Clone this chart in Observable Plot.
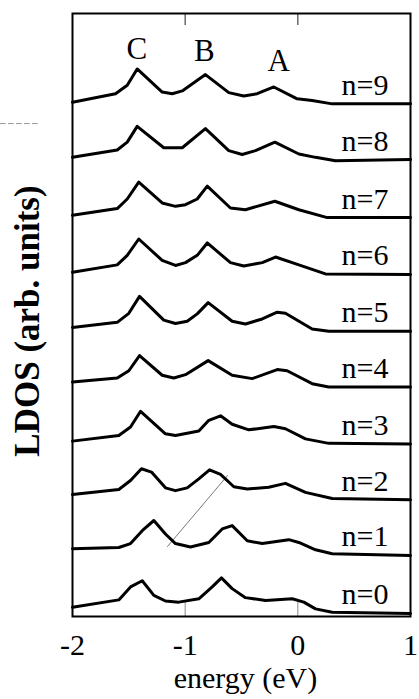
<!DOCTYPE html>
<html>
<head>
<meta charset="utf-8">
<script src="https://cdn.jsdelivr.net/npm/d3@7"></script>
<script src="https://cdn.jsdelivr.net/npm/@observablehq/plot@0.6"></script>
<style>
  html, body { margin: 0; padding: 0; background: #fff; }
  #chart { width: 419px; height: 699px; }
</style>
</head>
<body>
<div id="chart"></div>
<script>
// LDOS curves, [energy (eV), LDOS (arb. units)] for each layer n; curves are offset by n
const ldos9 = [[-2.0,-0.03],[-1.618,0.12],[-1.514,0.27],[-1.426,0.56],[-1.204,0.15],[-1.115,0.12],[-1.026,0.17],[-0.820,0.46],[-0.613,0.14],[-0.480,0.08],[-0.361,0.12],[-0.213,0.24],[-0.006,0.03],[0.127,0.00],[0.305,-0.06],[1.0,-0.06]];
const ldos8 = [[-2.0,-0.01],[-1.603,0.12],[-1.514,0.26],[-1.426,0.54],[-1.190,0.16],[-1.026,0.16],[-0.820,0.50],[-0.613,0.11],[-0.494,0.04],[-0.376,0.11],[-0.204,0.26],[0.009,0.05],[0.157,-0.01],[0.334,-0.07],[1.0,-0.05]];
const ldos7 = [[-2.0,-0.04],[-1.603,0.08],[-1.514,0.25],[-1.412,0.55],[-1.204,0.18],[-1.086,0.12],[-0.997,0.15],[-0.893,0.25],[-0.804,0.48],[-0.598,0.09],[-0.465,0.06],[-0.204,0.21],[0.009,0.06],[0.261,-0.08],[1.0,-0.08]];
const ldos6 = [[-2.0,-0.05],[-1.603,0.08],[-1.514,0.25],[-1.412,0.54],[-1.204,0.16],[-1.086,0.07],[-0.997,0.12],[-0.893,0.25],[-0.804,0.47],[-0.598,0.12],[-0.480,0.06],[-0.316,0.12],[-0.198,0.22],[0.009,0.08],[0.245,-0.08],[1.0,-0.09]];
const ldos5 = [[-2.0,-0.03],[-1.603,0.06],[-1.500,0.22],[-1.405,0.52],[-1.190,0.10],[-1.086,0.04],[-0.982,0.08],[-0.893,0.21],[-0.796,0.41],[-0.583,0.08],[-0.465,0.03],[-0.316,0.12],[-0.183,0.24],[-0.110,0.22],[0.127,-0.06],[0.275,-0.10],[1.0,-0.10]];
const ldos4 = [[-2.0,0.00],[-1.603,0.07],[-1.500,0.20],[-1.405,0.47],[-1.204,0.12],[-1.101,0.07],[-0.997,0.13],[-0.796,0.38],[-0.583,0.12],[-0.405,0.06],[-0.183,0.22],[-0.095,0.20],[0.127,-0.03],[0.275,-0.09],[1.0,-0.09]];
const ldos3 = [[-2.0,-0.05],[-1.589,0.05],[-1.485,0.20],[-1.396,0.48],[-1.175,0.08],[-1.086,0.05],[-0.879,0.13],[-0.790,0.32],[-0.686,0.40],[-0.583,0.25],[-0.435,0.15],[-0.213,0.21],[-0.110,0.17],[0.068,-0.01],[0.275,-0.09],[1.0,-0.10]];
const ldos2 = [[-2.0,0.00],[-1.589,0.09],[-1.485,0.25],[-1.388,0.46],[-1.299,0.40],[-1.175,0.12],[-1.086,0.07],[-0.982,0.12],[-0.879,0.28],[-0.784,0.44],[-0.686,0.36],[-0.568,0.14],[-0.449,0.10],[-0.258,0.13],[-0.110,0.20],[0.068,0.04],[0.305,-0.07],[1.0,-0.09]];
const ldos1 = [[-2.0,0.04],[-1.589,0.06],[-1.485,0.13],[-1.381,0.36],[-1.278,0.54],[-1.175,0.30],[-1.086,0.13],[-0.953,0.07],[-0.790,0.15],[-0.671,0.39],[-0.583,0.45],[-0.449,0.18],[-0.316,0.13],[-0.080,0.20],[0.009,0.15],[0.157,0.02],[0.305,-0.05],[1.0,-0.08]];
const ldos0 = [[-2.0,0.00],[-1.589,0.13],[-1.485,0.36],[-1.381,0.47],[-1.278,0.21],[-1.175,0.11],[-1.057,0.09],[-0.879,0.15],[-0.760,0.36],[-0.678,0.52],[-0.583,0.33],[-0.465,0.17],[-0.287,0.12],[-0.050,0.15],[0.053,0.09],[0.157,-0.03],[0.305,-0.09],[1.0,-0.11]];

const layers = [0,1,2,3,4,5,6,7,8,9];
const peakNames = ["C","B","A"];
const peakE = [-1.43,-0.83,-0.17];
const peakY = [9.74,9.71,9.53];
const xTicks = [-2,-1,0,1];
const innerTicks = [-1,0];
// stray scan strokes seen in the scanned figure
const strayE = [-1.157,-0.624];
const strayY = [1.078,2.339];
const dashE = [-2.64,-2.30];
const dashY = [8.59,8.59];

const curves = [ldos0,ldos1,ldos2,ldos3,ldos4,ldos5,ldos6,ldos7,ldos8,ldos9];
const points = curves.flatMap((c, n) => c.map(([E, v]) => ({n, E, y: n + v})));
const labelRows = layers.map(n => ({n, y: n + curves[n][curves[n].length - 1][1]}));
const peaks = peakNames.map((t, i) => ({t, E: peakE[i], y: peakY[i]}));
const stray = strayE.map((E, i) => ({E, y: strayY[i]}));
const dash = dashE.map((E, i) => ({E, y: dashY[i]}));

const FONT = "Liberation Serif";

const chart = Plot.plot({
  width: 419,
  height: 699,
  marginLeft: 72,
  marginRight: 9,
  marginTop: 13,
  marginBottom: 83,
  style: {fontFamily: FONT},
  x: {domain: [-2, 1], axis: null},
  y: {domain: [-0.165, 10.545], axis: null},
  marks: [
    Plot.line(dash, {x: "E", y: "y", stroke: "#999", strokeWidth: 1, strokeDasharray: "5,3"}),
    Plot.line(stray, {x: "E", y: "y", stroke: "#555", strokeWidth: 0.8}),
    Plot.ruleX(innerTicks, {x: d => d, insetTop: 589, stroke: "#888", strokeWidth: 1}),
    Plot.ruleX(innerTicks, {x: d => d, insetBottom: 591, stroke: "#444", strokeWidth: 1.2}),
    Plot.line(points, {x: "E", y: "y", z: "n", stroke: "#000", strokeWidth: 3, strokeLinejoin: "round", strokeLinecap: "round"}),
    Plot.frame({stroke: "#000", strokeWidth: 2}),
    Plot.text(labelRows, {x: 1, y: "y", dx: -22, dy: -9, text: d => `n=${d.n}`, textAnchor: "end", lineAnchor: "bottom", fontSize: 30, fontFamily: FONT}),
    Plot.text(peaks, {x: "E", y: "y", text: "t", textAnchor: "middle", lineAnchor: "bottom", fontSize: 31, fontFamily: FONT}),
    Plot.text(xTicks, {x: d => d, frameAnchor: "bottom", dy: 38, textAnchor: "middle", lineAnchor: "bottom", text: d => String(d), fontSize: 30, fontFamily: FONT}),
    Plot.text(["energy (eV)"], {frameAnchor: "bottom", dx: 4, dy: 71, textAnchor: "middle", lineAnchor: "bottom", fontSize: 30, fontFamily: FONT}),
    Plot.text(["LDOS (arb. units)"], {frameAnchor: "left", dx: -45, dy: 6, rotate: -90, textAnchor: "middle", fontSize: 35, fontWeight: "bold", fontFamily: FONT})
  ]
});
document.getElementById("chart").appendChild(chart);
</script>
</body>
</html>
